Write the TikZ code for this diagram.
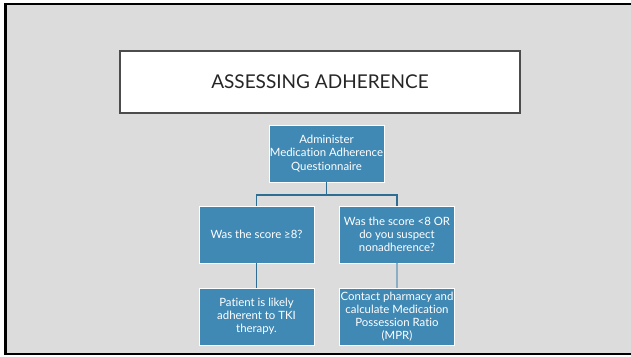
\documentclass[tikz,border=0pt]{standalone}
\usepackage{fontspec}
\setmainfont{Lato}[Ligatures=NoCommon]
\usetikzlibrary{calc}
\definecolor{slide}{HTML}{DCDCDC}
\definecolor{boxblue}{HTML}{4189B5}
\definecolor{linkblue}{HTML}{2E6E93}
\definecolor{linklight}{HTML}{8AAEC6}
\tikzset{
  flowbox/.style={draw=white, line width=0.8pt, fill=boxblue, text=white,
    minimum width=115pt, minimum height=57pt, inner sep=0pt, align=center,
    font=\fontsize{11.4}{13.2}\selectfont},
  link/.style={draw=linkblue, line width=1.4pt},
  titlebox/.style={draw=black!70, line width=1.5pt, fill=white,
    minimum width=400pt, minimum height=62pt,
    font=\fontsize{19}{22}\selectfont, text=black!85}
}
\begin{document}
\begin{tikzpicture}[x=1pt, y=-1pt]
  \useasboundingbox (0,0) rectangle (631,356);
  \fill[white] (0,0) rectangle (631,356);
  % slide background with its dark frame
  \draw[line width=2.5pt, fill=slide] (5.5,4) rectangle (645,354);

  \node[titlebox] (title) at (320,82) {ASSESSING ADHERENCE};

  \node[flowbox] (top) at (326.5,153.5) {Administer\\Medication Adherence\\Questionnaire};
  \node[flowbox] (hi) at (256.5,234.5) {Was the score ≥8?};
  \node[flowbox] (lo) at (397,234.5) {Was the score <8 OR\\do you suspect\\nonadherence?};
  \node[flowbox] (ok) at (256.5,316.5) {Patient is likely\\adherent to TKI\\therapy.};
  \node[flowbox] (mpr) at (397,316.5) {Contact pharmacy and\\calculate Medication\\Possession Ratio\\(MPR)};

  \coordinate (split) at (326.5,195);
  \draw[link] (top.south) -- (split) -| (hi.north);
  \draw[link] (split) -| (lo.north);
  \draw[link] (hi.south) -- (ok.north);
  \draw[link, draw=linklight] (lo.south) -- (mpr.north);
\end{tikzpicture}
\end{document}
